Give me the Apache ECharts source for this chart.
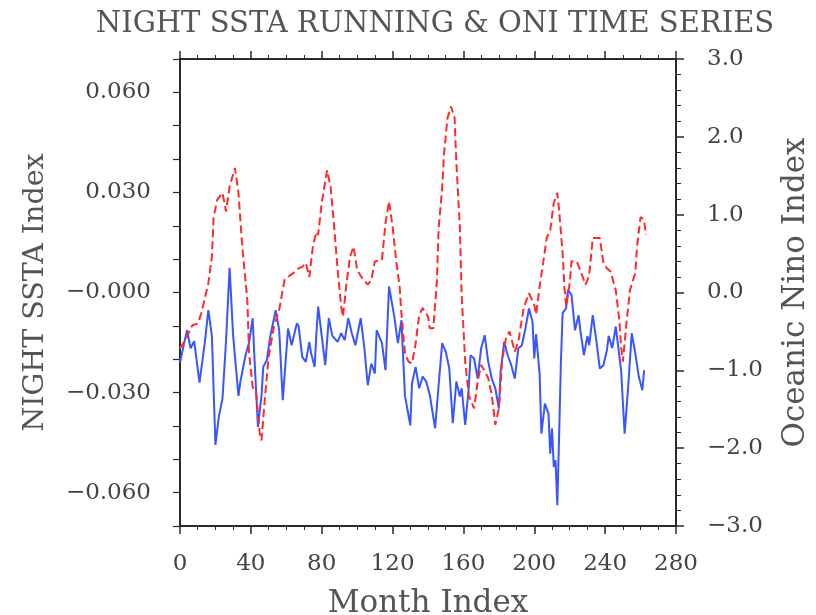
<!DOCTYPE html>
<html>
<head>
<meta charset="utf-8">
<script src="https://cdn.jsdelivr.net/npm/echarts@6/dist/echarts.min.js"></script>
<style>
  html, body { margin: 0; padding: 0; background: #fff; }
  #chart { width: 816px; height: 615px; }
</style>
</head>
<body>
<div id="chart"></div>
<script>
// Month index of each sample
const ssta_months = [0,2,4,6,8,11,14,16,18,20,22,24,26,28,30,33,34,37,39,41,42,44,46,47,49,51,54,56,58,61,63,66,67,69,71,73,74,76,77,78,80,82,84,86,89,91,93,95,97,99,102,104,106,108,110,111,114,116,118,121,123,125,127,130,131,133,135,137,139,141,144,146,148,150,152,154,155,156,158,159,161,163,164,166,168,170,172,174,176,178,180,181,183,185,187,189,191,193,195,197,199,200,201,203,204,206,208,209,210,211,212,213,214,215,216,218,219,221,223,225,226,228,230,231,233,235,237,239,241,242,244,246,247,249,251,253,255,257,259,261,262];
// Night SSTA running index (left axis)
const ssta_values = [-0.021,-0.016,-0.0113,-0.0167,-0.0146,-0.027,-0.015,-0.0053,-0.013,-0.0457,-0.037,-0.0317,-0.0143,0.0074,-0.013,-0.031,-0.027,-0.0188,-0.015,-0.0077,-0.0193,-0.0403,-0.031,-0.0223,-0.0203,-0.013,-0.0053,-0.0113,-0.0323,-0.0108,-0.0158,-0.0092,-0.0102,-0.0193,-0.0208,-0.0148,-0.0182,-0.0223,-0.0122,-0.0042,-0.013,-0.0218,-0.0077,-0.013,-0.0148,-0.0122,-0.0143,-0.0077,-0.0122,-0.0158,-0.0077,-0.0163,-0.0278,-0.0213,-0.0243,-0.0113,-0.0152,-0.0233,0.0018,-0.0073,-0.0152,-0.0083,-0.031,-0.0398,-0.0272,-0.0223,-0.0287,-0.0252,-0.0267,-0.0307,-0.0407,-0.0278,-0.0152,-0.0177,-0.0227,-0.0392,-0.0397,-0.0267,-0.0312,-0.0287,-0.0397,-0.0287,-0.0188,-0.0198,-0.0258,-0.0167,-0.0128,-0.0208,-0.0258,-0.0287,-0.0348,-0.0238,-0.0148,-0.0188,-0.0218,-0.0258,-0.0167,-0.0158,-0.0108,-0.0048,-0.0088,-0.0198,-0.0125,-0.0243,-0.0423,-0.0333,-0.0363,-0.0483,-0.0407,-0.0523,-0.0503,-0.0638,-0.0433,-0.0213,-0.0062,-0.0047,0.0008,-0.0007,-0.0113,-0.0068,-0.0113,-0.0188,-0.013,-0.0158,-0.0068,-0.0143,-0.0228,-0.0218,-0.0173,-0.013,-0.0167,-0.0102,-0.0102,-0.0233,-0.0423,-0.0283,-0.0122,-0.0182,-0.0252,-0.0293,-0.0233];

// Month index of each ONI sample
const oni_months = [0,3,7,10,12,16,18,19,21,24,26,28,31,33,35,38,39,41,43,45,46,48,50,53,56,59,62,64,67,69,71,73,75,77,78,80,83,85,87,89,91,92,94,96,98,100,103,106,108,110,114,116,118,120,122,124,125,127,129,131,133,135,137,140,141,143,145,146,148,149,151,153,155,156,158,159,161,163,166,168,170,171,174,176,178,180,182,184,186,189,191,194,197,200,201,203,205,207,209,211,213,214,216,217,218,220,221,224,227,229,231,233,237,239,241,243,246,248,249,250,252,254,257,258,260,262,263];
// Oceanic Nino Index (right axis)
const oni_values = [-0.72,-0.61,-0.42,-0.40,-0.27,0.12,0.46,0.97,1.19,1.28,1.04,1.36,1.60,1.28,0.63,-0.10,-0.78,-1.21,-1.30,-1.81,-1.90,-1.34,-0.83,-0.44,-0.22,0.16,0.22,0.25,0.31,0.33,0.38,0.20,0.59,0.78,0.74,1.15,1.57,1.36,0.85,0.29,-0.18,-0.31,0.12,0.46,0.59,0.29,0.18,0.10,0.16,0.40,0.42,0.89,1.17,0.85,0.42,0.07,-0.27,-0.78,-0.89,-0.91,-0.66,-0.29,-0.20,-0.31,-0.46,-0.46,0.14,0.83,1.34,1.77,2.24,2.39,2.24,1.68,0.83,-0.03,-0.89,-1.32,-1.49,-1.15,-0.93,-0.97,-1.10,-1.32,-1.70,-1.49,-0.85,-0.59,-0.50,-0.76,-0.63,-0.20,-0.01,-0.16,-0.28,0.07,0.38,0.70,0.80,1.15,1.28,1.06,0.50,0.07,-0.18,0.12,0.40,0.40,0.22,0.10,0.22,0.70,0.70,0.38,0.31,0.27,0.03,-0.35,-0.70,-0.89,-0.40,0.03,0.25,0.59,0.97,0.93,0.74];

const month_ticks = { min: 0, max: 280, step: 40 };
const ssta_range = { min: -0.07, max: 0.07, step: 0.01, labelStep: 0.03 };
const oni_range = { min: -3, max: 3, step: 1 };

const FONT = '"DejaVu Serif", serif';
const TEXT = '#444';
const FRAME = '#2a2a2a';

function pairs(xs, ys) { return xs.map((x, i) => [x, ys[i]]); }

function sstaLabel(v) {
  const k = Math.round(v * 1000);
  if (k % Math.round(ssta_range.labelStep * 1000) !== 0) return '';
  if (k === 0) return '\u22120.000';
  return (k < 0 ? '\u2212' : '') + (Math.abs(k) / 1000).toFixed(3);
}
function oniLabel(v) {
  const r = Math.round(v * 10) / 10;
  return (r < 0 ? '\u2212' : '') + Math.abs(r).toFixed(1);
}

const chart = echarts.init(document.getElementById('chart'), null, { renderer: 'canvas' });

const frameLine = { show: true, onZero: false, lineStyle: { color: FRAME, width: 2 } };

chart.setOption({
  animation: false,
  backgroundColor: '#fff',
  title: {
    text: 'NIGHT SSTA RUNNING & ONI TIME SERIES',
    left: 430, top: 5, textAlign: 'center',
    textStyle: { fontFamily: FONT, fontSize: 29, fontWeight: 'normal', color: '#555' }
  },
  grid: { left: 180, top: 59, width: 496, height: 467, containLabel: false, outerBoundsMode: 'none' },
  xAxis: [
    {
      type: 'value', position: 'bottom',
      min: month_ticks.min, max: month_ticks.max, interval: month_ticks.step,
      name: 'Month Index', nameLocation: 'middle', nameGap: 62,
      nameTextStyle: { fontFamily: FONT, fontSize: 31, color: '#555' },
      axisLine: frameLine,
      axisTick: { show: true, inside: false, length: 8, lineStyle: { color: FRAME, width: 1.5 } },
      minorTick: { show: true, splitNumber: 4, length: 4, lineStyle: { color: FRAME, width: 1 } },
      axisLabel: { margin: 27, fontFamily: FONT, fontSize: 23, color: TEXT },
      splitLine: { show: false }
    },
    {
      type: 'value', position: 'top',
      min: month_ticks.min, max: month_ticks.max, interval: month_ticks.step,
      axisLine: frameLine,
      axisTick: { show: true, inside: false, length: 8, lineStyle: { color: FRAME, width: 1.5 } },
      minorTick: { show: true, splitNumber: 4, length: 4, lineStyle: { color: FRAME, width: 1 } },
      axisLabel: { show: false },
      splitLine: { show: false }
    }
  ],
  yAxis: [
    {
      type: 'value', position: 'left',
      min: ssta_range.min, max: ssta_range.max, interval: ssta_range.step,
      name: 'NIGHT SSTA Index', nameLocation: 'middle', nameGap: 130, nameRotate: 90,
      nameTextStyle: { fontFamily: FONT, fontSize: 28.5, color: '#555' },
      axisLine: frameLine,
      axisTick: { show: true, inside: false, length: 7, lineStyle: { color: FRAME, width: 1.2 } },
      axisLabel: { interval: 0, margin: 29, fontFamily: FONT, fontSize: 23, color: TEXT, formatter: sstaLabel },
      splitLine: { show: false }
    },
    {
      type: 'value', position: 'right',
      min: oni_range.min, max: oni_range.max, interval: oni_range.step,
      name: 'Oceanic Nino Index', nameLocation: 'middle', nameGap: 104, nameRotate: 90,
      nameTextStyle: { fontFamily: FONT, fontSize: 31, color: '#555' },
      axisLine: frameLine,
      axisTick: { show: true, inside: false, length: 8, lineStyle: { color: FRAME, width: 1.5 } },
      minorTick: { show: true, splitNumber: 5, length: 5, lineStyle: { color: FRAME, width: 1 } },
      axisLabel: { margin: 31, fontFamily: FONT, fontSize: 23, color: TEXT, formatter: oniLabel },
      splitLine: { show: false }
    }
  ],
  series: [
    {
      name: 'NIGHT SSTA', type: 'line', xAxisIndex: 0, yAxisIndex: 0,
      data: pairs(ssta_months, ssta_values),
      showSymbol: false, smooth: false,
      lineStyle: { color: '#3a55ff', width: 2 }
    },
    {
      name: 'ONI', type: 'line', xAxisIndex: 0, yAxisIndex: 1,
      data: pairs(oni_months, oni_values),
      showSymbol: false, smooth: false,
      lineStyle: { color: '#ff2a2a', width: 2, type: [8, 4] }
    }
  ]
});
</script>
</body>
</html>
